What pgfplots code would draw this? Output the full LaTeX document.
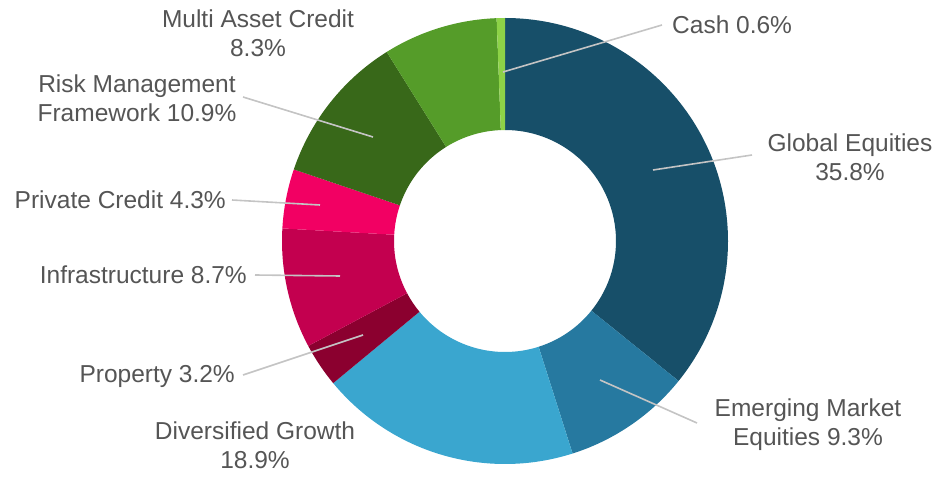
\documentclass[border=0pt]{standalone}
\usepackage{pgfplots}
\usepackage{pgfplotstable}
\pgfplotsset{compat=1.18}
\usepackage{fontspec}
\setmainfont{Liberation Sans}
\definecolor{cGE}{HTML}{174F69}
\definecolor{cEM}{HTML}{2679A0}
\definecolor{cDG}{HTML}{3AA6CF}
\definecolor{cPR}{HTML}{8B002F}
\definecolor{cIN}{HTML}{C3004F}
\definecolor{cPC}{HTML}{F20063}
\definecolor{cRM}{HTML}{386819}
\definecolor{cMA}{HTML}{559C29}
\definecolor{cCA}{HTML}{8DD247}
\definecolor{txt}{HTML}{555555}
\definecolor{lead}{HTML}{C4C4C4}
\tikzset{lab/.style={text=txt, font=\fontsize{24.5}{29}\selectfont, inner sep=0pt},
  leader/.style={lead, line width=1.6pt}}
\pgfplotstableread[col sep=comma]{
name,value,color
Global Equities,35.8,cGE
Emerging Market Equities,9.3,cEM
Diversified Growth,18.9,cDG
Property,3.2,cPR
Infrastructure,8.7,cIN
Private Credit,4.3,cPC
Risk Management Framework,10.9,cRM
Multi Asset Credit,8.3,cMA
Cash,0.6,cCA
}\piedata
\begin{document}
\begin{tikzpicture}
\begin{axis}[disabledatascaling, x=1pt, y=1pt,
  xmin=0, xmax=937, ymin=0, ymax=472,
  hide axis, clip=false]
\path (axis cs:0,0) rectangle (axis cs:937,472);
\def\cum{0}
\pgfplotsforeachungrouped \ii in {0,...,8}{%
  \pgfplotstablegetelem{\ii}{value}\of\piedata \let\wv\pgfplotsretval
  \pgfplotstablegetelem{\ii}{color}\of\piedata \let\wc\pgfplotsretval
  \pgfmathsetmacro\wa{90-3.6*\cum}
  \pgfmathsetmacro\wb{90-3.6*(\cum+\wv)}
  \pgfmathsetmacro\xo{505+223*cos(\wa)}
  \pgfmathsetmacro\yo{231+223*sin(\wa)}
  \pgfmathsetmacro\xin{505+111*cos(\wb)}
  \pgfmathsetmacro\yin{231+111*sin(\wb)}
  \edef\temp{\noexpand\fill[\wc] (axis cs:\xo,\yo) arc[start angle=\wa, end angle=\wb, radius=223pt] -- (axis cs:\xin,\yin) arc[start angle=\wb, end angle=\wa, radius=111pt] -- cycle;}%
  \temp
  \pgfmathsetmacro\cum{\cum+\wv}%
}
% leader lines
\addplot[leader, no markers] coordinates {(503,400) (662,447)};
\addplot[leader, no markers] coordinates {(653,302) (752,317)};
\addplot[leader, no markers] coordinates {(600,92) (697,49)};
\addplot[leader, no markers] coordinates {(363,137) (243,97)};
\addplot[leader, no markers] coordinates {(340,196) (255,197)};
\addplot[leader, no markers] coordinates {(320,267) (232,272)};
\addplot[leader, no markers] coordinates {(373,335) (243,375)};
% labels
\node[lab, align=center] at (axis cs:258,439) {Multi Asset Credit\\8.3\%};
\node[lab, align=center] at (axis cs:137,374) {Risk Management\\Framework 10.9\%};
\node[lab, anchor=east] at (axis cs:226,272) {Private Credit 4.3\%};
\node[lab, anchor=east] at (axis cs:247,197) {Infrastructure 8.7\%};
\node[lab, anchor=east] at (axis cs:235,96) {Property 3.2\%};
\node[lab, align=center] at (axis cs:255,27) {Diversified Growth\\18.9\%};
\node[lab, anchor=west] at (axis cs:672,447) {Cash 0.6\%};
\node[lab, align=center] at (axis cs:850,315) {Global Equities\\35.8\%};
\node[lab, align=center] at (axis cs:808,47) {Emerging Market\\Equities 9.3\%};
\end{axis}
\end{tikzpicture}
\end{document}
